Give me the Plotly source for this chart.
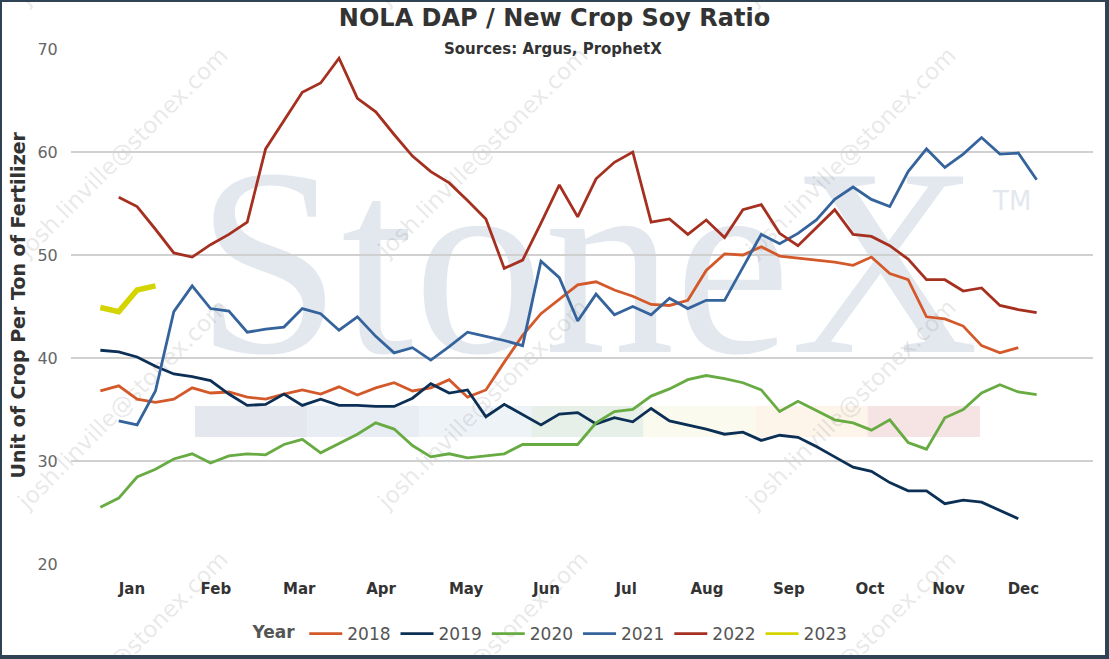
import base64
import plotly.graph_objects as go

# week numbers of the year (x axis)
weeks = list(range(1, 53))

months = ["Jan", "Feb", "Mar", "Apr", "May", "Jun", "Jul", "Aug", "Sep", "Oct", "Nov", "Dec"]
month_pos = [2.72, 7.29, 11.83, 16.29, 20.92, 25.3, 29.64, 34.04, 38.5, 42.92, 47.2, 51.28]

# weeks 1-51
y2018 = [36.8, 37.3, 36.0, 35.7, 36.0, 37.1, 36.6, 36.7, 36.2, 36.0,
         36.5, 36.9, 36.5, 37.2, 36.4, 37.1, 37.6, 36.8, 37.1, 37.9,
         36.2, 36.9, 39.6, 42.2, 44.3, 45.7, 47.1, 47.4, 46.6, 46.0,
         45.2, 45.1, 45.6, 48.5, 50.1, 50.0, 50.8, 49.9, 49.7, 49.5,
         49.3, 49.0, 49.8, 48.2, 47.6, 44.0, 43.8, 43.1, 41.2, 40.5,
         41.0]
# weeks 1-51
y2019 = [40.75, 40.6, 40.1, 39.2, 38.45, 38.2, 37.8, 36.5, 35.4, 35.5,
         36.5, 35.4, 36.0, 35.4, 35.4, 35.3, 35.3, 36.1, 37.5, 36.6,
         36.9, 34.3, 35.5, 34.5, 33.5, 34.55, 34.7, 33.6, 34.2, 33.8,
         35.1, 33.9, 33.5, 33.1, 32.6, 32.8, 32.0, 32.5, 32.3, 31.4,
         30.4, 29.4, 29.0, 27.9, 27.1, 27.1, 25.85, 26.2, 26.0, 25.2,
         24.4]
# weeks 1-52
y2020 = [25.5, 26.4, 28.45, 29.2, 30.2, 30.7, 29.8, 30.5, 30.7, 30.6,
         31.6, 32.1, 30.8, 31.7, 32.6, 33.7, 33.1, 31.5, 30.4, 30.7,
         30.3, 30.5, 30.7, 31.6, 31.6, 31.6, 31.6, 33.7, 34.8, 35.0,
         36.3, 37.0, 37.9, 38.3, 38.0, 37.6, 36.9, 34.8, 35.8, 34.9,
         34.0, 33.7, 33.0, 34.0, 31.8, 31.15, 34.2, 35.0, 36.6, 37.4,
         36.7, 36.45]
# weeks 2-52
y2021 = [33.9, 33.5, 36.8, 44.5, 47.0, 44.8, 44.55, 42.5, 42.8,
         43.0, 44.8, 44.3, 42.7, 44.0, 42.1, 40.5, 41.0, 39.8, 41.1,
         42.5, 42.1, 41.7, 41.2, 49.4, 47.8, 43.6, 46.2, 44.2, 45.0,
         44.2, 45.8, 44.8, 45.6, 45.6, 48.8, 52.0, 51.1, 52.1, 53.4,
         55.4, 56.6, 55.4, 54.7, 58.1, 60.3, 58.5, 59.8, 61.4, 59.8,
         59.9, 57.3]
# weeks 2-52
y2022 = [55.6, 54.7, 52.5, 50.2, 49.8, 51.0, 52.0, 53.2, 60.3,
         63.0, 65.8, 66.7, 69.1, 65.2, 63.9, 61.7, 59.6, 58.1, 57.0,
         55.3, 53.5, 48.7, 49.5, 53.1, 56.8, 53.7, 57.4, 59.0, 60.0,
         53.2, 53.5, 52.0, 53.4, 51.7, 54.4, 54.9, 52.1, 50.9, 52.6,
         54.4, 52.0, 51.8, 50.9, 49.6, 47.6, 47.6, 46.5, 46.8, 45.1,
         44.7, 44.4]
# weeks 1-4
y2023 = [44.9, 44.5, 46.6, 47.0]

series = [
    ("2018", weeks[:51], y2018, "#d4592a", 2.8),
    ("2019", weeks[:51], y2019, "#0c2f55", 2.8),
    ("2020", weeks, y2020, "#67ab42", 2.8),
    ("2021", weeks[1:], y2021, "#35639c", 2.8),
    ("2022", weeks[1:], y2022, "#a53020", 2.8),
    ("2023", weeks[:4], y2023, "#d4d400", 5.5),
]

W, H = 1109, 659
L, R, T, B = 71, 16, 49, 95
pw, ph = W - L - R, H - T - B

# background watermark (StoneX logo, colour band, e-mail stamps) as an svg image
band = ["#e4e8ee", "#e8edf4", "#eef3f8", "#e6efe8", "#fafbee", "#fdf5ea", "#f6e4e5"]
svg = ['<svg xmlns="http://www.w3.org/2000/svg" width="%d" height="%d">' % (W, H)]
for i, c in enumerate(band):
    svg.append('<rect x="%.1f" y="406" width="112.3" height="31" fill="%s"/>' % (195 + i * 112.1, c))
svg.append('<text x="196" y="352" font-family="Liberation Serif" font-size="268" '
           'fill="#e3e8ef" textLength="783" lengthAdjust="spacingAndGlyphs">StoneX</text>')
svg.append('<text x="993" y="210" font-family="DejaVu Sans" font-size="26" fill="#e3e8ef">TM</text>')
for cx in [124, 484, 852, 1220]:
    for cy in [-99, 153, 405, 657]:
        svg.append('<text x="%d" y="%d" font-family="DejaVu Sans" font-size="23" fill="#8a8a8a" '
                   'fill-opacity="0.2" text-anchor="middle" dominant-baseline="middle" '
                   'transform="rotate(-45 %d %d)">josh.linville@stonex.com</text>' % (cx, cy, cx, cy))
svg.append('<rect x="1" y="1" width="%d" height="%d" fill="none" stroke="#2f4354" stroke-width="2"/>' % (W - 2, H - 2))
svg.append('<rect x="%d" y="0" width="4" height="%d" fill="#2f4354"/>' % (W - 4, H))
svg.append('<rect x="0" y="%d" width="%d" height="4" fill="#2f4354"/>' % (H - 4, W))
svg.append('</svg>')
svg_uri = "data:image/svg+xml;base64," + base64.b64encode("".join(svg).encode()).decode()

fig = go.Figure()
for name, xs, ys, color, lw in series:
    # lines are drawn without legend entries, legend gets a plain-width stub
    fig.add_trace(go.Scatter(x=xs, y=ys, name=name, mode="lines", legendgroup=name,
                             showlegend=False, line=dict(color=color, width=lw)))
    fig.add_trace(go.Scatter(x=[None], y=[None], name=name, mode="lines", legendgroup=name,
                             line=dict(color=color, width=2.8)))

fig.update_layout(
    width=W, height=H,
    margin=dict(l=L, r=R, t=T, b=B, autoexpand=False),
    paper_bgcolor="white", plot_bgcolor="rgba(0,0,0,0)",
    font=dict(family="DejaVu Sans", color="#555"),
    showlegend=True,
    title=dict(text="<b>NOLA DAP / New Crop Soy Ratio</b>", x=0.5, xref="container",
               y=1 - 18 / H, yanchor="middle", xanchor="center",
               font=dict(size=24, color="#333")),
    legend=dict(orientation="h", x=(551.5 - L) / pw, xanchor="center",
                y=(H - B - 634) / ph, yanchor="middle", itemwidth=33,
                font=dict(size=17, color="#555"),
                title=dict(text="<b>Year</b>", font=dict(size=17, color="#555")),
                bgcolor="rgba(0,0,0,0)"),
    images=[dict(source=svg_uri, xref="paper", yref="paper",
                 x=-L / pw, y=1 + T / ph, sizex=W / pw, sizey=H / ph,
                 xanchor="left", yanchor="top", sizing="stretch", layer="below")],
    annotations=[
        dict(text="<b>Sources: Argus, ProphetX</b>", xref="paper", yref="paper",
             x=(553 - L) / pw, y=1.0, xanchor="center", yanchor="middle",
             showarrow=False, font=dict(size=15, color="#333")),
        dict(text="<b>Unit of Crop Per Ton of Fertilizer</b>", xref="paper", yref="paper",
             x=(17 - L) / pw, y=(H - B - 305.5) / ph, xanchor="center", yanchor="middle",
             textangle=-90, showarrow=False, font=dict(size=19, color="#333")),
    ],
)

fig.update_xaxes(range=[-0.6, 55.07], showgrid=False, zeroline=False, showline=False,
                 tickmode="array", tickvals=month_pos, ticktext=months,
                 ticks="outside", ticklen=11, tickcolor="rgba(0,0,0,0)",
                 tickfont=dict(size=15, color="#333", weight="bold"), automargin=False)
fig.update_yaxes(range=[20, 70], dtick=10, showgrid=True, gridcolor="#d0d0d0", gridwidth=1.5,
                 zeroline=False, showline=False,
                 ticks="outside", ticklen=9, tickcolor="rgba(0,0,0,0)",
                 tickfont=dict(size=16, color="#666"), automargin=False)

fig.write_html("out.html", config={"displayModeBar": False},
               post_script="document.body.style.margin='0';")
